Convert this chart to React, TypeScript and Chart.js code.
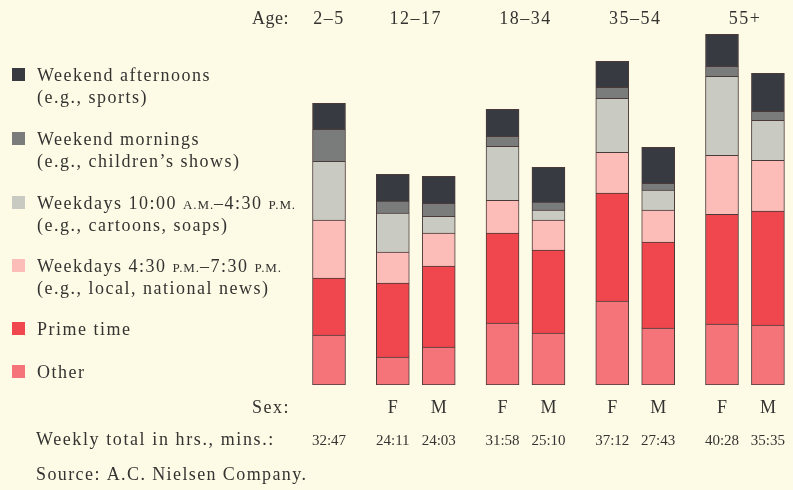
import React, { useEffect, useRef } from "react";
import { Chart, registerables } from "chart.js";

Chart.register(...registerables);

// ---- data ----
const ageGroups = ["2–5", "12–17", "18–34", "35–54", "55+"];
const barGroup = [0, 1, 1, 2, 2, 3, 3, 4, 4];
const barSex = ["", "F", "M", "F", "M", "F", "M", "F", "M"];
const weeklyTotals = ["32:47", "24:11", "24:03", "31:58", "25:10", "37:12", "27:43", "40:28", "35:35"];

// hours per week, by daypart (bottom of stack first)
const other = [5.75, 3.22, 4.37, 7.13, 5.98, 9.66, 6.55, 7.01, 6.9];
const primeTime = [6.55, 8.51, 9.31, 10.34, 9.54, 12.41, 9.89, 12.64, 13.1];
const weekdayEvening = [6.67, 3.56, 3.79, 3.79, 3.45, 4.71, 3.68, 6.78, 5.86];
const weekdayDaytime = [6.78, 4.48, 1.95, 6.21, 1.15, 6.21, 2.3, 9.08, 4.6];
const weekendMornings = [3.68, 1.38, 1.49, 1.15, 0.92, 1.26, 0.8, 1.15, 1.03];
const weekendAfternoons = [2.99, 3.1, 3.1, 3.1, 4.02, 2.99, 4.14, 3.68, 4.37];

type Run = { t: string; small?: boolean };
type Series = { name: string; lines: Run[][]; values: number[]; color: string };

const series: Series[] = [
  { name: "Other", lines: [[{ t: "Other" }]], values: other, color: "#f4747a" },
  { name: "Prime time", lines: [[{ t: "Prime time" }]], values: primeTime, color: "#ef474d" },
  {
    name: "Weekdays 4:30 P.M.–7:30 P.M.",
    lines: [
      [{ t: "Weekdays 4:30 " }, { t: "P.M.", small: true }, { t: "–7:30 " }, { t: "P.M.", small: true }],
      [{ t: "(e.g., local, national news)" }],
    ],
    values: weekdayEvening,
    color: "#fcbdb9",
  },
  {
    name: "Weekdays 10:00 A.M.–4:30 P.M.",
    lines: [
      [{ t: "Weekdays 10:00 " }, { t: "A.M.", small: true }, { t: "–4:30 " }, { t: "P.M.", small: true }],
      [{ t: "(e.g., cartoons, soaps)" }],
    ],
    values: weekdayDaytime,
    color: "#c9cac1",
  },
  {
    name: "Weekend mornings",
    lines: [[{ t: "Weekend mornings" }], [{ t: "(e.g., children’s shows)" }]],
    values: weekendMornings,
    color: "#7a7b7b",
  },
  {
    name: "Weekend afternoons",
    lines: [[{ t: "Weekend afternoons" }], [{ t: "(e.g., sports)" }]],
    values: weekendAfternoons,
    color: "#383a41",
  },
];

// ---- layout constants ----
const W = 793;
const H = 490;
const BG = "#fdfbe6";
const INK = "#353331";
const SERIF = "'Liberation Serif', 'Times New Roman', serif";
const PAIR_STEP = 0.72;
const GROUP_STEP = 1;

const positions: number[] = [];
barGroup.forEach((g, i) => {
  if (i === 0) positions.push(0);
  else positions.push(positions[i - 1] + (g === barGroup[i - 1] ? PAIR_STEP : GROUP_STEP));
});

function drawRuns(ctx: CanvasRenderingContext2D, runs: Run[], x: number, y: number, size: number, spacing: number) {
  let cx = x;
  for (const r of runs) {
    const s = r.small ? Math.round(size * 0.74) : size;
    ctx.font = `${s}px ${SERIF}`;
    (ctx as any).letterSpacing = `${r.small ? spacing * 0.6 : spacing}px`;
    ctx.fillText(r.t, cx, y);
    cx += ctx.measureText(r.t).width;
  }
}

const textPlugin = {
  id: "textPlugin",
  beforeDraw(chart: any) {
    const ctx = chart.ctx;
    ctx.save();
    ctx.fillStyle = BG;
    ctx.fillRect(0, 0, chart.width, chart.height);
    ctx.restore();
  },
  afterDraw(chart: any) {
    const ctx: CanvasRenderingContext2D = chart.ctx;
    const xs = chart.scales.x;
    ctx.save();
    ctx.fillStyle = INK;
    ctx.textBaseline = "alphabetic";

    // legend (top item first)
    const legendBaselines = [81, 145, 209, 272, 335, 378];
    const ordered = [...series].reverse();
    ordered.forEach((s, i) => {
      const b = legendBaselines[i];
      ctx.fillStyle = s.color;
      ctx.fillRect(12, b - 13, 13, 13);
      ctx.fillStyle = INK;
      ctx.textAlign = "left";
      s.lines.forEach((ln, j) => drawRuns(ctx, ln, 37, b + j * 22, 18, 1.5));
    });

    // top: age groups
    ctx.font = `18px ${SERIF}`;
    (ctx as any).letterSpacing = "0.5px";
    ctx.textAlign = "left";
    ctx.fillText("Age:", 252, 24);
    ctx.textAlign = "center";
    (ctx as any).letterSpacing = "1.5px";
    ageGroups.forEach((g, gi) => {
      const px = positions.filter((_, i) => barGroup[i] === gi).map((p) => xs.getPixelForValue(p));
      const cx = px.reduce((a, b) => a + b, 0) / px.length;
      ctx.fillText(g, cx, 24);
    });

    // bottom: sex labels
    (ctx as any).letterSpacing = "1.5px";
    ctx.textAlign = "left";
    ctx.fillText("Sex:", 252, 413);
    ctx.textAlign = "center";
    (ctx as any).letterSpacing = "0px";
    barSex.forEach((s, i) => {
      if (s) ctx.fillText(s, xs.getPixelForValue(positions[i]), 413);
    });

    // weekly totals
    ctx.textAlign = "left";
    (ctx as any).letterSpacing = "1.6px";
    ctx.fillText("Weekly total in hrs., mins.:", 36, 445);
    ctx.font = `15px ${SERIF}`;
    (ctx as any).letterSpacing = "0px";
    ctx.textAlign = "center";
    weeklyTotals.forEach((t, i) => ctx.fillText(t, xs.getPixelForValue(positions[i]), 445));

    // source
    ctx.font = `18px ${SERIF}`;
    (ctx as any).letterSpacing = "1.4px";
    ctx.textAlign = "left";
    ctx.fillText("Source: A.C. Nielsen Company.", 36, 480);
    ctx.restore();
  },
};

export default function App() {
  const ref = useRef<HTMLCanvasElement | null>(null);
  useEffect(() => {
    if (!ref.current) return;
    const chart = new Chart(ref.current, {
      type: "bar",
      data: {
        datasets: series.map((s, si) => ({
          label: s.name,
          data: s.values.map((v, i) => ({ x: positions[i], y: v })),
          backgroundColor: s.color,
          borderColor: "#4a3a3a",
          borderWidth: { top: 1, left: 1, right: 1, bottom: si === 0 ? 1 : 0 },
          borderSkipped: false,
          barThickness: 33,
        })),
      } as any,
      options: {
        responsive: false,
        animation: false,
        layout: { padding: { top: 20, bottom: 105, left: 0, right: 0 } },
        plugins: { legend: { display: false }, tooltip: { enabled: false } },
        scales: {
          x: {
            type: "linear",
            stacked: true,
            display: false,
            offset: false,
            grid: { offset: false },
            min: -5.157,
            max: 7.273,
          },
          y: { stacked: true, display: false, min: 0, max: 42 },
        },
      } as any,
      plugins: [textPlugin],
    });
    return () => chart.destroy();
  }, []);
  return (
    <div style={{ position: "fixed", left: 0, top: 0, width: W, height: H, background: BG }}>
      <canvas ref={ref} width={W} height={H} style={{ display: "block", width: W, height: H }} />
    </div>
  );
}
